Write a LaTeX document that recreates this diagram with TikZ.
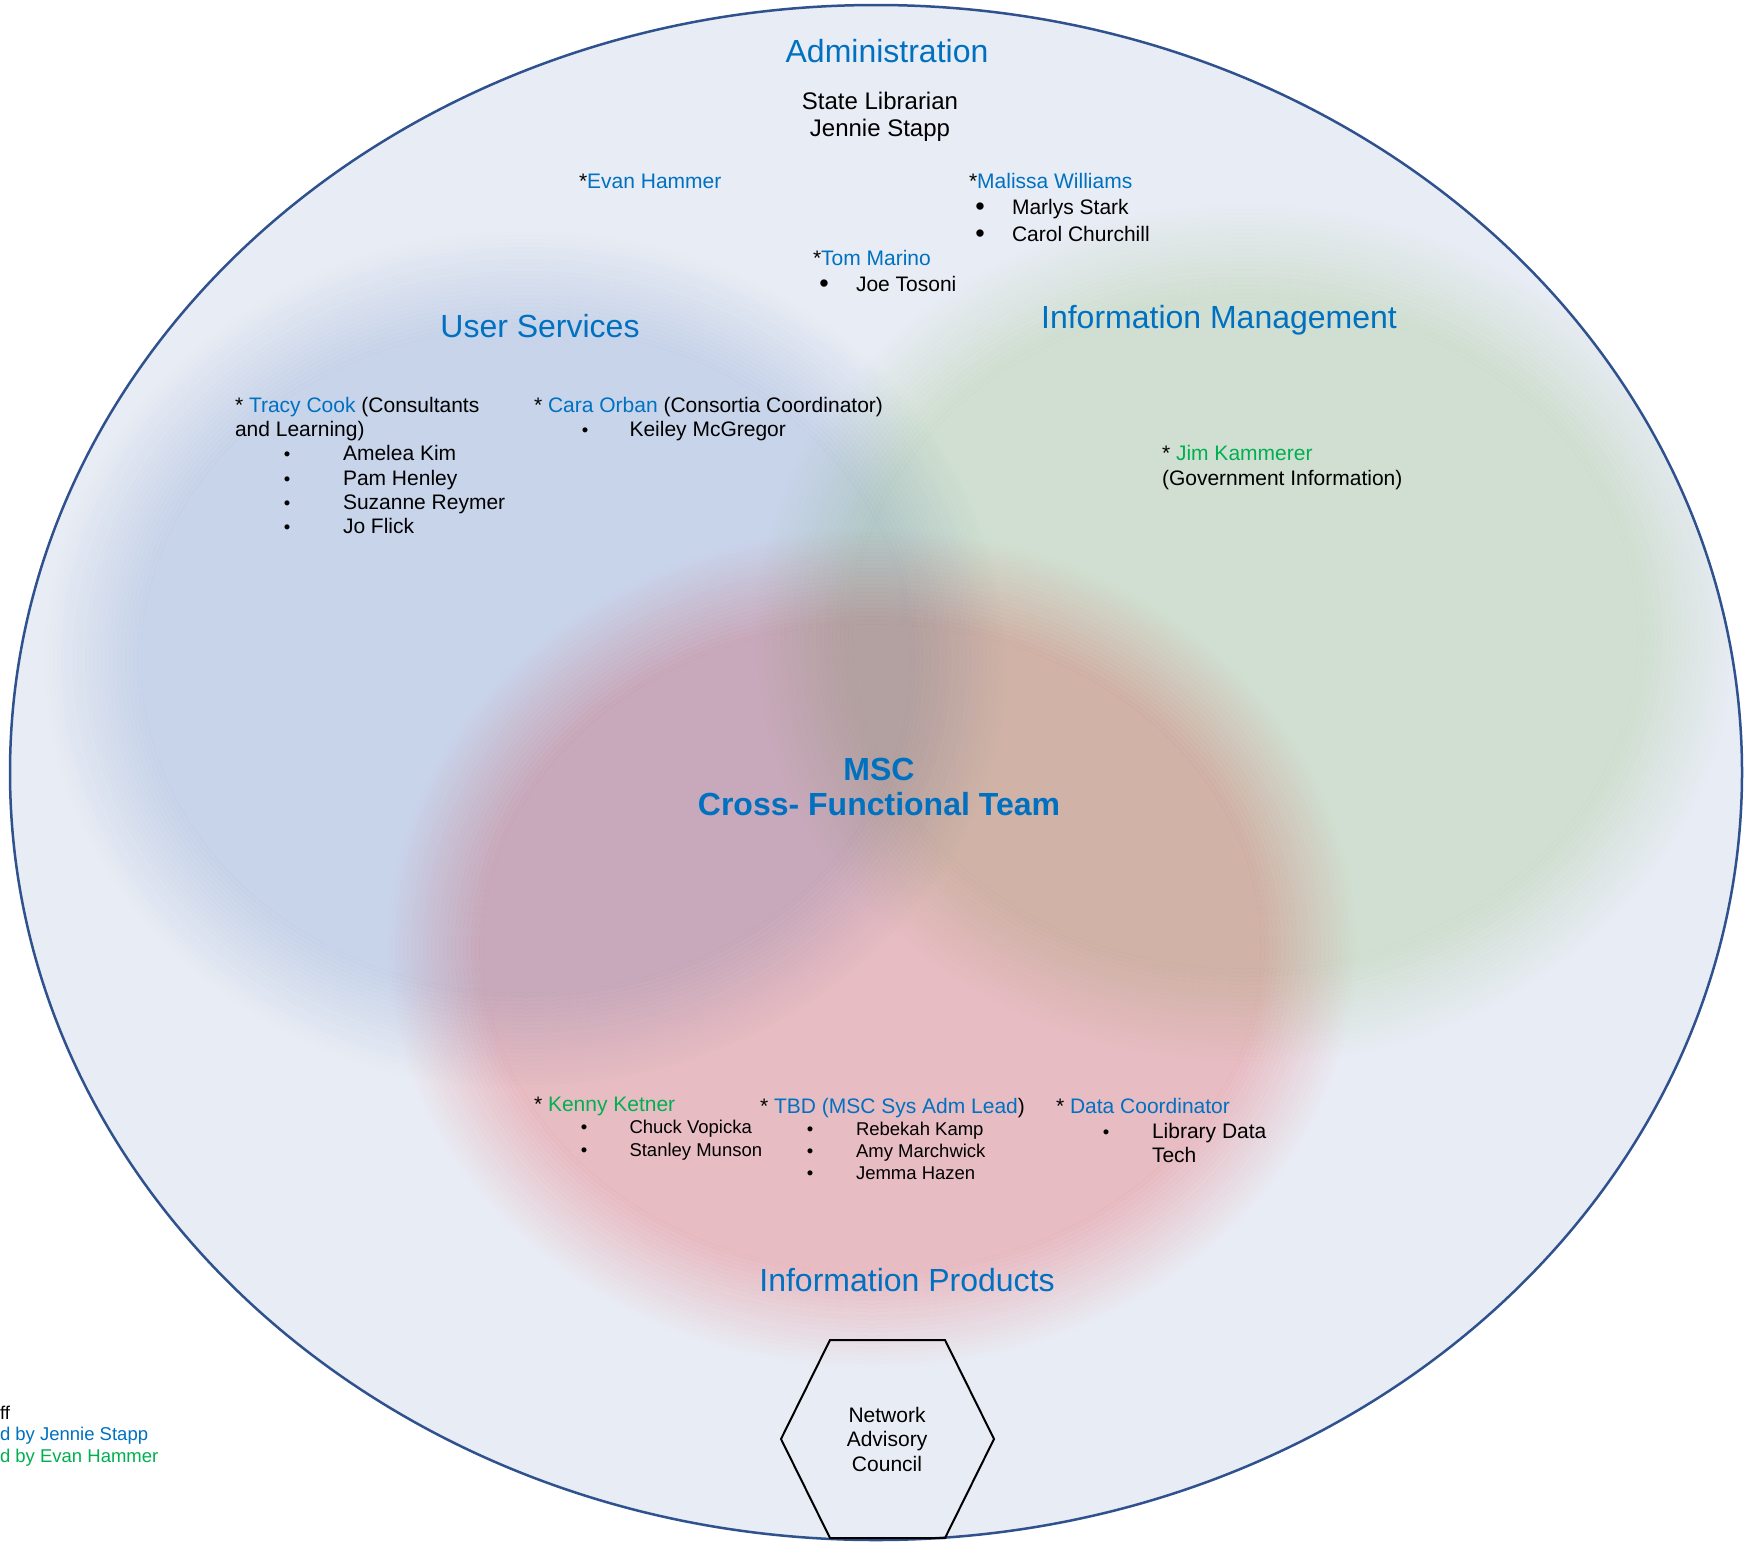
\documentclass[tikz,border=0pt]{standalone}
\usepackage{fontspec}
\setmainfont{Liberation Sans}
\definecolor{bgfill}{RGB}{232,236,244}
\definecolor{rim}{RGB}{47,82,143}
\definecolor{blueM}{RGB}{220,230,245}
\definecolor{greenM}{RGB}{229,242,219}
\definecolor{redM}{RGB}{255,204,204}
\definecolor{tblue}{RGB}{0,112,192}
\definecolor{tgreen}{RGB}{0,176,80}
\tikzset{
  lbl/.style={inner sep=0pt, outer sep=0pt, anchor=base west},
  ctr/.style={inner sep=0pt, outer sep=0pt, anchor=base},
  big/.style={font=\fontsize{32}{38}\selectfont},
  bigb/.style={font=\fontsize{32}{36}\selectfont\bfseries},
  mid/.style={font=\fontsize{24}{27}\selectfont},
  reg/.style={font=\fontsize{21}{24.5}\selectfont},
  sml/.style={font=\fontsize{18.5}{22}\selectfont},
  bigdot/.style={font=\fontsize{27}{30}\selectfont},
  blob/.style={blend mode=multiply},
}
% soft-edged ellipse: #1 colour, #2 centre, #3 x radius, #4 y radius
\newcommand{\softblob}[4]{%
  \foreach \k in {0,...,23} {
    \pgfmathsetmacro\da{48-4*\k}
    \pgfmathsetmacro\db{44-4*\k}
    \pgfmathsetmacro\al{(\k+0.5)/24}
    \fill[#1, blob, fill opacity=\al, even odd rule]
      #2 ellipse [x radius=#3pt+\da pt, y radius=#4pt+\da pt]
      #2 ellipse [x radius=#3pt+\db pt, y radius=#4pt+\db pt];
  }
  \fill[#1, blob] #2 ellipse [x radius=#3pt-48pt, y radius=#4pt-48pt];
}
\begin{document}
\begin{tikzpicture}[x=1pt,y=-1pt]
\useasboundingbox (0,0) rectangle (1747,1542);
\fill[white] (0,0) rectangle (1747,1542);
\fill[bgfill] (876,772.5) ellipse [x radius=866pt, y radius=767.5pt];
\begin{scope}
  \clip (876,772.5) ellipse [x radius=866pt, y radius=767.5pt];
  \softblob{blueM}{(526,660)}{433}{381}
  \softblob{greenM}{(1245,635)}{441}{382}
  \softblob{redM}{(872,948)}{437}{372}
\end{scope}
\draw[rim, line width=2.5pt] (876,772.5) ellipse [x radius=866pt, y radius=767.5pt];

% Administration
\node[ctr,big,tblue] (admin) at (887,62) {Administration};
\node[ctr,mid] (sl1) at (880,109) {State Librarian};
\node[ctr,mid] (sl2) at (880,136) {Jennie Stapp};
\node[lbl,reg] (evan) at (579,188) {*\textcolor{tblue}{Evan Hammer}};
\node[lbl,reg] (malissa) at (969,188) {*\textcolor{tblue}{Malissa Williams}};
\node[ctr,bigdot] (b1) at (980,215) {•};
\node[lbl,reg] (marlys) at (1012,214) {Marlys Stark};
\node[ctr,bigdot] (b2) at (980,242) {•};
\node[lbl,reg] (carol) at (1012,241) {Carol Churchill};
\node[lbl,reg] (tom) at (813,265) {*\textcolor{tblue}{Tom Marino}};
\node[ctr,bigdot] (b3) at (824,292) {•};
\node[lbl,reg] (joe) at (856,291) {Joe Tosoni};

% User Services / Information Management
\node[ctr,big,tblue] (us) at (540,337) {User Services};
\node[ctr,big,tblue] (im) at (1219,328) {Information Management};
\node[lbl,reg] (tracy) at (235,412) {* \textcolor{tblue}{Tracy Cook} (Consultants};
\node[lbl,reg] (tracy2) at (235,436) {and Learning)};
\node[ctr,sml] (b4) at (287,460) {•};
\node[lbl,reg] (amelea) at (343,460) {Amelea Kim};
\node[ctr,sml] (b5) at (287,485) {•};
\node[lbl,reg] (pam) at (343,485) {Pam Henley};
\node[ctr,sml] (b6) at (287,509) {•};
\node[lbl,reg] (suzanne) at (343,509) {Suzanne Reymer};
\node[ctr,sml] (b7) at (287,533) {•};
\node[lbl,reg] (jo) at (343,533) {Jo Flick};
\node[lbl,reg] (cara) at (534,412) {* \textcolor{tblue}{Cara Orban} (Consortia Coordinator)};
\node[ctr,sml] (b8) at (585,436) {•};
\node[lbl,reg] (keiley) at (629.5,436) {Keiley McGregor};
\node[lbl,reg] (jim) at (1162,460) {* \textcolor{tgreen}{Jim Kammerer}};
\node[lbl,reg] (jim2) at (1162,485) {(Government Information)};

% Centre
\node[ctr,bigb,tblue] (msc) at (879,780) {MSC};
\node[ctr,bigb,tblue] (cft) at (879,815) {Cross- Functional Team};

% Information Products
\node[lbl,reg] (kenny) at (534,1111) {* \textcolor{tgreen}{Kenny Ketner}};
\node[ctr,sml] (b9) at (584,1133) {•};
\node[lbl,sml] (chuck) at (629.5,1133) {Chuck Vopicka};
\node[ctr,sml] (b10) at (584,1156) {•};
\node[lbl,sml] (stanley) at (629.5,1156) {Stanley Munson};
\node[lbl,reg] (tbd) at (760,1113) {* \textcolor{tblue}{TBD (MSC Sys Adm Lead})};
\node[ctr,sml] (b11) at (810,1135) {•};
\node[lbl,sml] (rebekah) at (856,1135) {Rebekah Kamp};
\node[ctr,sml] (b12) at (810,1157) {•};
\node[lbl,sml] (amy) at (856,1157) {Amy Marchwick};
\node[ctr,sml] (b13) at (810,1179) {•};
\node[lbl,sml] (jemma) at (856,1179) {Jemma Hazen};
\node[lbl,reg] (dc) at (1056,1113) {* \textcolor{tblue}{Data Coordinator}};
\node[ctr,sml] (b14) at (1106,1138) {•};
\node[lbl,reg] (lib1) at (1152,1138) {Library Data};
\node[lbl,reg] (lib2) at (1152,1162) {Tech};
\node[ctr,big,tblue] (ip) at (907,1291) {Information Products};

% Network Advisory Council
\draw[line width=2pt, line join=miter] (830,1340) -- (945,1340) -- (994,1439) -- (945,1538) -- (830,1538) -- (781,1439) -- cycle;
\node[ctr,reg] (nac1) at (887,1422) {Network};
\node[ctr,reg] (nac2) at (887,1446) {Advisory};
\node[ctr,reg] (nac3) at (887,1471) {Council};

% Legend (cut at left edge)
\node[lbl,sml] (lg1) at (0,1419) {ff};
\node[lbl,sml,tblue] (lg2) at (0,1440) {d by Jennie Stapp};
\node[lbl,sml,tgreen] (lg3) at (0,1462) {d by Evan Hammer};
\end{tikzpicture}
\end{document}
